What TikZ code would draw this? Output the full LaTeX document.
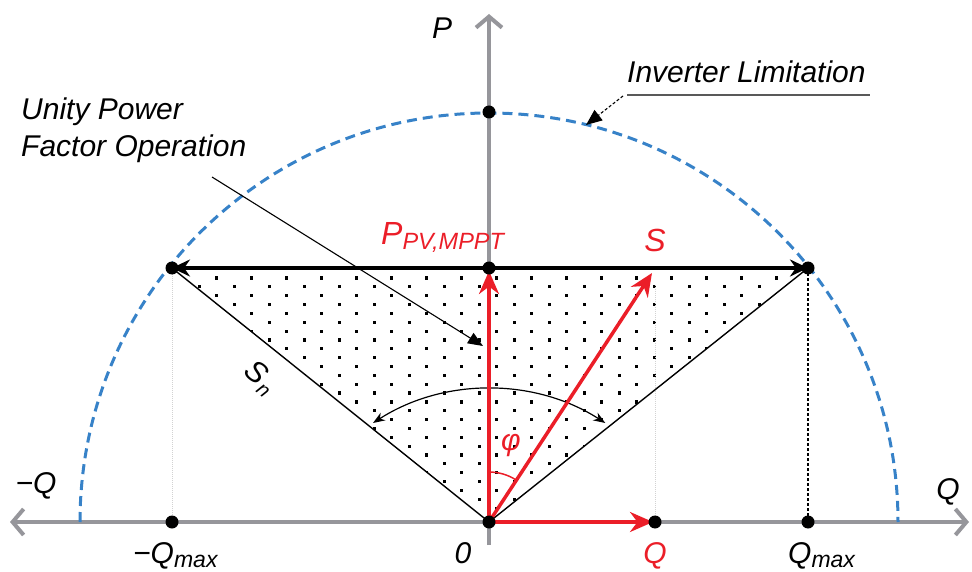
\documentclass[tikz,border=0pt]{standalone}
\usepackage{fontspec}
\setmainfont{Liberation Sans}
\usetikzlibrary{arrows.meta}
\definecolor{axisgray}{RGB}{150,150,155}
\definecolor{limblue}{RGB}{55,130,200}
\definecolor{vecred}{RGB}{235,30,40}
\begin{document}
\begin{tikzpicture}[x=1pt,y=-1pt,
  lbl/.style={font=\fontsize{30}{34}\selectfont\itshape, inner sep=0pt},
  redlbl/.style={lbl, text=vecred},
  axisline/.style={axisgray, line width=4pt, -{Straight Barb[length=11pt,width=26pt,line width=4pt]}},
  vec/.style={vecred, line width=3.5pt, -{Stealth[length=23pt,width=20pt]}},
  edge/.style={black, line width=1.4pt},
  leader/.style={black, line width=1.1pt, -{Triangle[length=15pt,width=12pt]}},
  faint/.style={gray!35, line width=1pt, densely dotted},
]
\useasboundingbox (0,0) rectangle (972,572);

% key points
\coordinate (O) at (489,522);
\coordinate (L) at (172,268);
\coordinate (M) at (489,268);
\coordinate (R) at (808,268);
\coordinate (T) at (489,112);
\coordinate (QmN) at (172,522);
\coordinate (Qv) at (655,522);
\coordinate (QmP) at (808,522);
\coordinate (Stip) at (652,273);
\coordinate (Ptip) at (489,271);
\coordinate (Qtip) at (653,522);
\coordinate (AxL) at (10,522);
\coordinate (AxR) at (969,522);
\coordinate (AxT) at (489,14);
\coordinate (AxB) at (489,545);
\coordinate (QvTop) at (655,285);

% dotted fill of the triangle
\begin{scope}
  \clip (L) -- (R) -- (O) -- cycle;
  \foreach \k in {0,...,27}{
    \pgfmathsetmacro\yy{278+8.85*\k}
    \pgfmathsetmacro\xs{mod(\k,2)==0 ? 146.7 : 164.2}
    \foreach \m in {0,...,19}{
      \fill ({\xs+35*\m-1.6},{\yy-1.6}) rectangle ++(3.2,3.2);
    }
  }
\end{scope}

% faint helper verticals
\draw[faint] (L) -- (QmN);
\draw[faint] (QvTop) -- (Qv);
\draw[black, line width=1.1pt, dash pattern=on 3pt off 2pt] (R) -- (QmP);

% axes
\draw[axisline] (AxB) -- (AxT);
\draw[axisline] (O) -- (AxR);
\draw[axisline] (O) -- (AxL);

% inverter limitation circle
\draw[limblue, line width=3pt, dash pattern=on 10pt off 6pt] (80,522) arc[start angle=180, end angle=360, radius=409];

% triangle edges
\draw[edge] (O) -- (L);
\draw[edge] (O) -- (R);

% horizontal double arrow
\draw[black, line width=3.5pt, {Stealth[length=18pt,width=17pt]}-{Stealth[length=18pt,width=17pt]}] (L) -- (R);

% range arc
\coordinate (ArcL) at (373,423);
\draw[black, line width=1.2pt, {Stealth[length=12pt,width=9pt]}-{Stealth[length=12pt,width=9pt]}] (ArcL) arc[start angle=-122.7, end angle=-57.3, radius=215];

% red vectors
\draw[vec] (O) -- (Ptip);
\draw[vec] (O) -- (Stip);
\draw[vec] (O) -- (Qtip);
\draw[vecred, line width=1.5pt] (489,472) arc[start angle=-90, end angle=-56.8, radius=50];

% dots
\foreach \p in {L,M,R,T,QmN,O,Qv,QmP}{
  \fill (\p) circle[radius=6.5];
}

% annotations
\node[lbl, anchor=base west] (unity1) at (21,120) {Unity Power};
\node[lbl, anchor=base west] (unity2) at (21,157) {Factor Operation};
\coordinate (unityTail) at (212,177);
\coordinate (unityHead) at (483,346);
\draw[leader] (unityTail) -- (unityHead);

\node[lbl, anchor=base west] (inv) at (627,83) {Inverter Limitation};
\coordinate (invUL) at (627,95);
\coordinate (invUR) at (870,95);
\draw[gray!70!black, line width=1.3pt] (invUL) -- (invUR);
\coordinate (invTail) at (623,96);
\coordinate (invHead) at (586,125);
\draw[black, line width=1.1pt, densely dashed, -{Triangle[length=16pt,width=13pt]}] (invTail) -- (invHead);

% labels
\node[lbl] (Plab) at (442,28) {P};
\node[lbl] (mQlab) at (36,486) {−Q};
\node[lbl] (Qlab) at (948,492) {Q};
\node[lbl, anchor=base] (zero) at (463,563) {0};
\node[lbl, anchor=base west] (mQmax) at (133,563) {−Q\raisebox{-4pt}{\fontsize{23}{25}\selectfont max}};
\node[lbl, anchor=base west] (Qmax) at (788,563) {Q\raisebox{-4pt}{\fontsize{23}{25}\selectfont max}};
\node[redlbl, anchor=base] (Qred) at (655,563) {Q};
\node[redlbl, anchor=base west, font=\fontsize{32}{36}\selectfont\itshape] (Ppv) at (381,245) {P\raisebox{-5pt}{\fontsize{23.5}{25}\selectfont PV,MPPT}};
\node[redlbl, font=\fontsize{32}{36}\selectfont\itshape] (Slab) at (655,240) {S};
\node[redlbl] (phi) at (511,446) {φ};
\node[lbl, rotate=-40] (Sn) at (260,378) {S\kern1pt\raisebox{-6pt}{\fontsize{20}{22}\selectfont n}};
\end{tikzpicture}
\end{document}
